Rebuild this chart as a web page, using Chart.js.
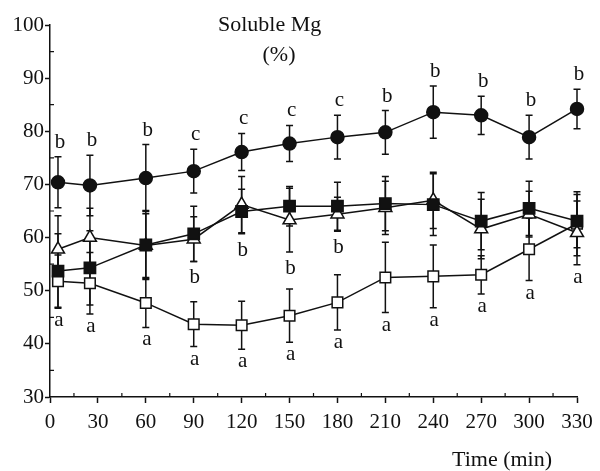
<!DOCTYPE html>
<html lang="en">
<head>
<meta charset="UTF-8">
<title>Soluble Mg (%)</title>
<script src="https://cdn.jsdelivr.net/npm/chart.js"></script>
<style>
  html, body { margin: 0; padding: 0; background: #fff; }
  canvas { display: block; }
</style>
</head>
<body>
<canvas id="mgChart" width="600" height="471"></canvas>
<script>
// sampling times (min)
const times = [5, 25, 60, 90, 120, 150, 180, 210, 240, 270, 300, 330];

// soluble Mg (%) per treatment, mean and SD
const filledCircle    = [70.4, 69.8, 71.2, 72.5, 76.1, 77.7, 78.9, 79.8, 83.6, 83.0, 78.9, 84.2];
const filledCircleSd  = [4.8, 5.7, 6.3, 4.1, 3.5, 3.4, 4.1, 4.1, 4.9, 3.6, 4.1, 3.7];
const filledSquare    = [53.7, 54.3, 58.6, 60.7, 64.9, 65.9, 65.9, 66.4, 66.2, 63.1, 65.5, 63.1];
const filledSquareSd  = [7.0, 7.0, 6.5, 5.2, 4.2, 3.7, 4.5, 5.1, 5.8, 5.4, 5.1, 5.0];
const openTriangle    = [57.8, 60.0, 58.5, 59.7, 66.2, 63.3, 64.4, 65.6, 67.0, 61.6, 64.4, 60.9];
const openTriangleSd  = [6.3, 5.5, 6.0, 4.2, 5.3, 6.0, 3.2, 5.0, 5.3, 5.6, 4.3, 6.0];
const openSquare      = [51.8, 51.4, 47.7, 43.7, 43.5, 45.3, 47.8, 52.5, 52.7, 53.0, 57.8, 62.6];
const openSquareSd    = [4.9, 5.8, 4.6, 4.2, 4.5, 5.0, 5.2, 6.6, 5.9, 3.6, 5.9, 6.0];

// significance letters
const circleLetters   = ['b', 'b', 'b', 'c', 'c', 'c', 'c', 'b', 'b', 'b', 'b', 'b'];
const triangleLetters = ['', '', '', 'b', 'b', 'b', 'b', '', '', '', '', ''];
const squareLetters   = ['a', 'a', 'a', 'a', 'a', 'a', 'a', 'a', 'a', 'a', 'a', 'a'];

// axes
const xMin = 0, xMax = 330, xStep = 30, xMinorStep = 15;
const yMin = 30, yMax = 100, yStep = 10, yMinorStep = 5;

const FONT = "'Liberation Serif', 'DejaVu Serif', serif";
const INK = '#111';

function toPoints(values) {
  return values.map((v, i) => ({ x: times[i], y: v }));
}

function series(values, sd, style, radius, fill) {
  return {
    data: toPoints(values),
    errors: sd,
    borderColor: INK,
    borderWidth: 1.5,
    pointStyle: style,
    pointRadius: radius,
    pointBorderColor: INK,
    pointBorderWidth: 1.5,
    pointBackgroundColor: fill,
    tension: 0,
    fill: false,
    clip: false
  };
}

// vertical SD bars with caps, under the markers
const errorBars = {
  id: 'errorBars',
  beforeDatasetsDraw(chart) {
    const { ctx } = chart;
    const y = chart.scales.y;
    ctx.save();
    ctx.strokeStyle = INK;
    ctx.lineWidth = 1.5;
    chart.data.datasets.forEach((ds, di) => {
      const meta = chart.getDatasetMeta(di);
      ds.data.forEach((p, i) => {
        const px = meta.data[i].x;
        const top = y.getPixelForValue(p.y + ds.errors[i]);
        const bot = y.getPixelForValue(p.y - ds.errors[i]);
        ctx.beginPath();
        ctx.moveTo(px, top); ctx.lineTo(px, bot);
        ctx.moveTo(px - 3.5, top); ctx.lineTo(px + 3.5, top);
        ctx.moveTo(px - 3.5, bot); ctx.lineTo(px + 3.5, bot);
        ctx.stroke();
      });
    });
    ctx.restore();
  }
};

// letters placed clear of the bar ends at each time
const letterMarks = {
  id: 'letterMarks',
  afterDatasetsDraw(chart, args, opts) {
    const { ctx } = chart;
    const y = chart.scales.y;
    const sets = chart.data.datasets;
    ctx.save();
    ctx.fillStyle = INK;
    ctx.font = '21px ' + FONT;
    ctx.textAlign = 'center';
    ctx.textBaseline = 'alphabetic';
    opts.groups.forEach(g => {
      g.letters.forEach((txt, i) => {
        if (!txt) return;
        const px = chart.scales.x.getPixelForValue(times[i]);
        const m = ctx.measureText(txt);
        if (g.side === 'above') {
          const v = Math.max(...g.over.map(k => sets[k].data[i].y + sets[k].errors[i]));
          ctx.fillText(txt, px + 2, y.getPixelForValue(v) - 9);
        } else {
          const v = Math.min(...g.over.map(k => sets[k].data[i].y - sets[k].errors[i]));
          ctx.fillText(txt, px + 1, y.getPixelForValue(v) + 8 + m.actualBoundingBoxAscent);
        }
      });
    });
    ctx.restore();
  }
};

// inner minor ticks and the free-standing titles
const axisExtras = {
  id: 'axisExtras',
  afterDraw(chart) {
    const { ctx, chartArea } = chart;
    const xs = chart.scales.x, ys = chart.scales.y;
    ctx.save();
    ctx.strokeStyle = INK;
    ctx.lineWidth = 1.2;
    ctx.beginPath();
    for (let v = xMin + xMinorStep; v < xMax; v += xStep) {
      const px = xs.getPixelForValue(v);
      ctx.moveTo(px, chartArea.bottom); ctx.lineTo(px, chartArea.bottom - 4);
    }
    for (let v = yMin + yMinorStep; v < yMax; v += yStep) {
      const py = ys.getPixelForValue(v);
      ctx.moveTo(chartArea.left, py); ctx.lineTo(chartArea.left + 4, py);
    }
    ctx.stroke();

    ctx.fillStyle = INK;
    ctx.font = '22px ' + FONT;
    ctx.textBaseline = 'alphabetic';
    ctx.textAlign = 'left';
    ctx.fillText('Soluble Mg', 218, 31);
    ctx.textAlign = 'center';
    ctx.fillText('(%)', 279, 61);
    ctx.textAlign = 'left';
    ctx.fillText('Time (min)', 452, 466);
    ctx.restore();
  }
};

Chart.defaults.font.family = FONT;
Chart.defaults.color = INK;

// dataset order: first one is drawn on top
const datasets = [
  series(filledSquare, filledSquareSd, 'rect', 8, INK),
  series(openTriangle, openTriangleSd, 'triangle', 7.5, '#fff'),
  series(openSquare, openSquareSd, 'rect', 7.5, '#fff'),
  series(filledCircle, filledCircleSd, 'circle', 6.5, INK)
];

new Chart(document.getElementById('mgChart'), {
  type: 'line',
  data: { datasets },
  plugins: [errorBars, letterMarks, axisExtras],
  options: {
    responsive: false,
    animation: false,
    layout: { padding: { top: 25, right: 23, left: 0, bottom: 0 } },
    plugins: {
      legend: { display: false },
      tooltip: { enabled: false },
      letterMarks: {
        groups: [
          { letters: circleLetters, side: 'above', over: [0, 1, 2, 3] },
          { letters: triangleLetters, side: 'below', over: [0, 1] },
          { letters: squareLetters, side: 'below', over: [0, 1, 2, 3] }
        ]
      }
    },
    scales: {
      x: {
        type: 'linear',
        min: xMin,
        max: xMax,
        afterFit(scale) { scale.height = 74; },
        afterBuildTicks(scale) {
          scale.ticks = [];
          for (let v = xMin; v <= xMax; v += xStep) scale.ticks.push({ value: v });
        },
        ticks: { font: { size: 21 }, color: INK, padding: 7, maxRotation: 0, autoSkip: false },
        grid: { drawOnChartArea: false, drawTicks: true, tickLength: 6, tickColor: INK, tickWidth: 1.5 },
        border: { display: true, color: INK, width: 1.5 }
      },
      y: {
        type: 'linear',
        min: yMin,
        max: yMax,
        afterFit(scale) { scale.width = 50; },
        afterBuildTicks(scale) {
          scale.ticks = [];
          for (let v = yMin; v <= yMax; v += yStep) scale.ticks.push({ value: v });
        },
        ticks: { font: { size: 21 }, color: INK, padding: 1 },
        grid: { drawOnChartArea: false, drawTicks: true, tickLength: 5, tickColor: INK, tickWidth: 1.5 },
        border: { display: true, color: INK, width: 1.5 }
      }
    }
  }
});
</script>
</body>
</html>
